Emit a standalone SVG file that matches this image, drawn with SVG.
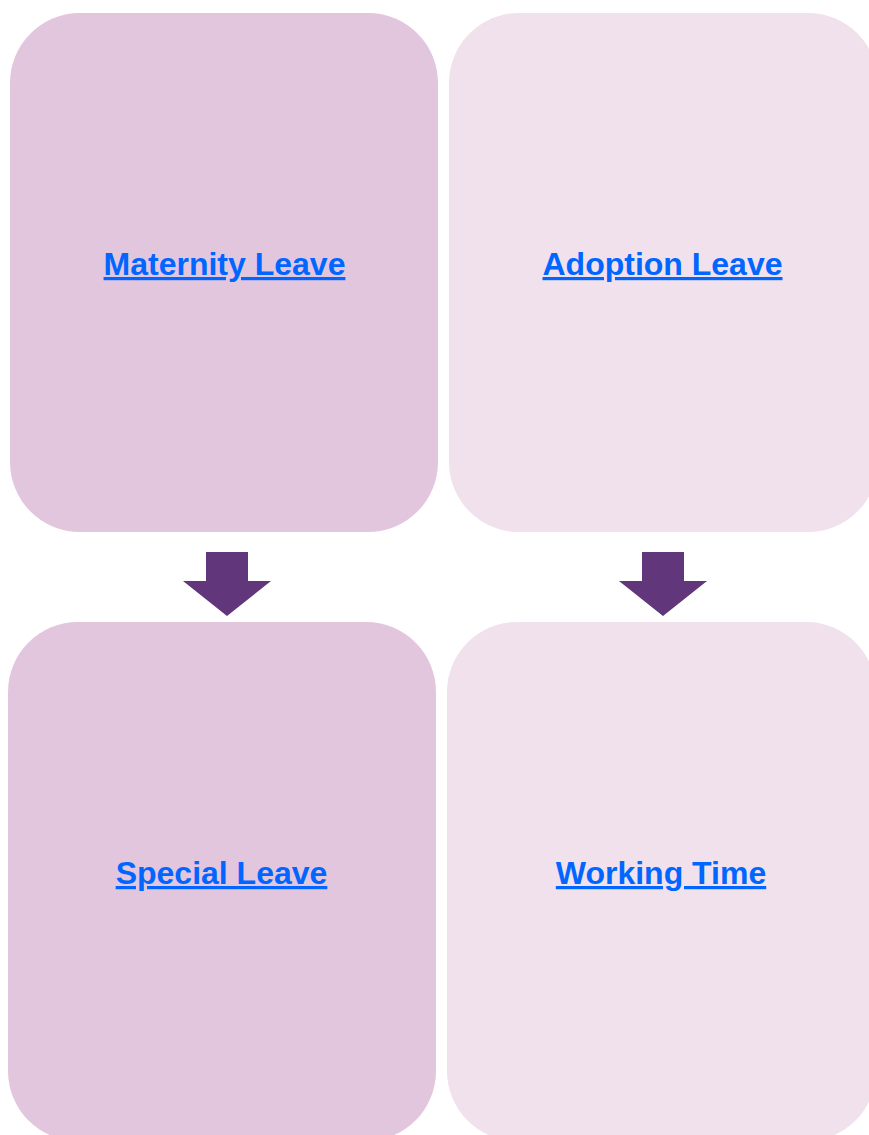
<svg xmlns="http://www.w3.org/2000/svg" width="869" height="1135" viewBox="0 0 869 1135">
  <style>
    .dark { fill: #E2C6DE; }
    .light { fill: #F0E1EC; }
    .arrow { fill: #62367B; }
    .lbl { font-family: "Liberation Sans", Arial, sans-serif; font-weight: bold; font-size: 32px; fill: #0066FF; text-decoration: underline; text-anchor: middle; }
  </style>
  <rect width="869" height="1135" fill="#FFFFFF"/>
  <g id="maternity-leave">
    <rect class="dark" x="10" y="13" width="428" height="519" rx="70" ry="70"/>
    <text class="lbl" x="224.5" y="275">Maternity Leave</text>
  </g>
  <g id="adoption-leave">
    <rect class="light" x="449" y="13" width="429" height="519" rx="70" ry="70"/>
    <text class="lbl" x="662.5" y="275">Adoption Leave</text>
  </g>
  <g id="special-leave">
    <rect class="dark" x="8" y="622" width="428" height="519" rx="70" ry="70"/>
    <text class="lbl" x="221.5" y="884">Special Leave</text>
  </g>
  <g id="working-time">
    <rect class="light" x="447" y="622" width="429" height="519" rx="70" ry="70"/>
    <text class="lbl" x="661" y="884">Working Time</text>
  </g>
  <g id="connectors">
    <polygon class="arrow" points="206,552 248,552 248,581 271,581 227,616 183,581 206,581"/>
    <polygon class="arrow" points="642,552 684,552 684,581 707,581 663,616 619,581 642,581"/>
  </g>
</svg>
